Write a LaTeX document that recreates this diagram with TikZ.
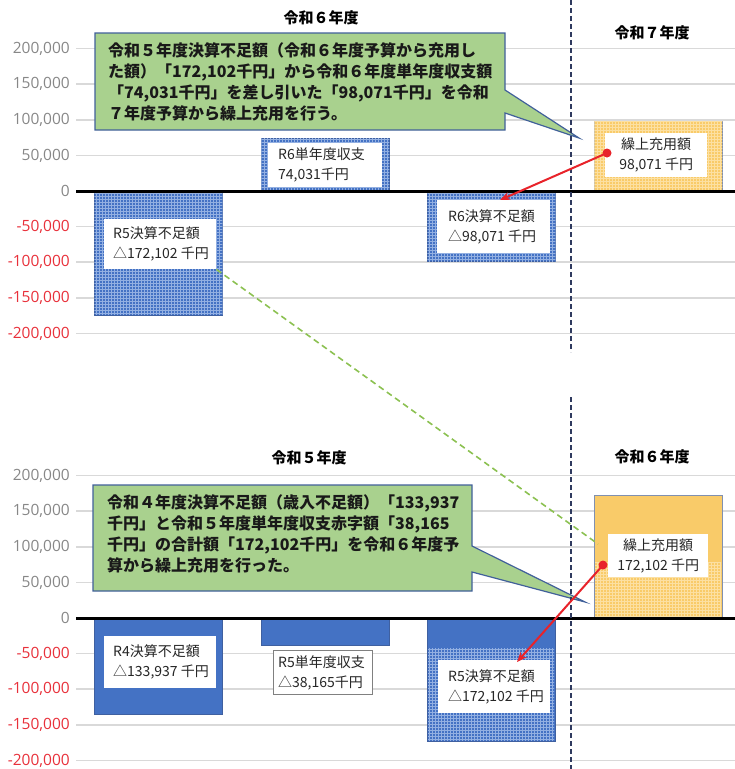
\documentclass[tikz,border=0pt]{standalone}
\usepackage{fontspec}
\usetikzlibrary{patterns,arrows.meta}
\newfontfamily\jp{Noto Sans CJK JP}
\newfontfamily\axf{Open Sans}
\definecolor{gridc}{HTML}{D9D9D9}
\definecolor{axgray}{HTML}{878787}
\definecolor{axred}{HTML}{E8303A}
\definecolor{barblue}{HTML}{4472C4}
\definecolor{barline}{HTML}{3F60A0}
\definecolor{patblue}{HTML}{93B0E2}
\definecolor{barorange}{HTML}{F9CB69}
\definecolor{orline}{HTML}{8090B0}
\definecolor{patorange}{HTML}{FCE0A2}
\definecolor{callgreen}{HTML}{A9D18E}
\definecolor{callline}{HTML}{41609A}
\definecolor{navy}{HTML}{2F3A5F}
\definecolor{dashgreen}{HTML}{8CC152}
\definecolor{arrred}{HTML}{E8232A}
\begin{document}
\begin{tikzpicture}[x=1pt,y=-1pt,
  gridline/.style={gridc, line width=1.5pt},
  zeroline/.style={black, line width=3pt},
  axpos/.style={anchor=east, text=axgray, font=\axf\fontsize{15.5}{18}\selectfont, inner sep=0pt},
  axneg/.style={axpos, text=axred},
  bluebar/.style={draw=barline, line width=0.8pt, fill=barblue, anchor=north west, inner sep=0pt, minimum width=128pt},
  patbluebar/.style={bluebar, postaction={pattern=grid, pattern color=patblue}},
  orbar/.style={draw=orline, line width=0.9pt, fill=barorange, anchor=north west, inner sep=0pt, minimum width=128pt},
  patorbar/.style={orbar, postaction={pattern=grid, pattern color=patorange}},
  lblbg/.style={fill=white, anchor=north west, inner sep=0pt},
  lbltxt/.style={anchor=west, align=left, inner sep=0pt, font=\jp\fontsize{14}{20}\selectfont, text=black!85},
  lblctr/.style={align=center, inner sep=0pt, font=\jp\fontsize{14}{20}\selectfont, text=black!85},
  yeartitle/.style={font=\jp\bfseries\fontsize{15}{18}\selectfont, inner sep=0pt},
  callout/.style={fill=callgreen, draw=callline, line width=1.2pt, line join=miter},
  calltext/.style={anchor=north west, align=left, inner sep=0pt, font=\jp\bfseries\fontsize{16}{21}\selectfont, text=black!90},
  yeardiv/.style={navy, line width=1.6pt, dash pattern=on 5pt off 3pt},
  linkline/.style={dashgreen, line width=1.6pt, dash pattern=on 6pt off 4pt},
  redarrow/.style={arrred, line width=2pt, -{Stealth[length=10pt,width=8pt]}}
]
\useasboundingbox (0,0) rectangle (735,769);

% ================= TOP CHART =================
\foreach \y in {48.6,84.2,119.8,155.4,226.6,262.2,297.8,333.4}{
  \draw[gridline] (76,\y) -- (735,\y);
}
\node[axpos] (ta1) at (70,48.6) {200,000};
\node[axpos] (ta2) at (70,84.2) {150,000};
\node[axpos] (ta3) at (70,119.8) {100,000};
\node[axpos] (ta4) at (70,155.4) {50,000};
\node[axpos] (ta5) at (70,191) {0};
\node[axneg] (ta6) at (70,226.6) {-50,000};
\node[axneg] (ta7) at (70,262.2) {-100,000};
\node[axneg] (ta8) at (70,297.8) {-150,000};
\node[axneg] (ta9) at (70,333.4) {-200,000};

\node[patbluebar, minimum height=123.5pt] (tb1) at (94,191) {};
\node[patbluebar, minimum height=53pt] (tb2) at (261,138) {};
\node[patbluebar, minimum height=70pt] (tb3) at (427,191) {};
\node[patorbar, minimum height=70pt] (tb4) at (594,121) {};
\draw[zeroline] (76,191) -- (735,191);

\node[lblbg, minimum width=112pt, minimum height=50pt] (tl1) at (104,219) {};
\node[lbltxt] (tt1) at ([xshift=9pt]tl1.west) {R5決算不足額\\△172,102 千円};
\node[lblbg, minimum width=114pt, minimum height=44pt] (tl2) at (268,143) {};
\node[lbltxt] (tt2) at ([xshift=10pt]tl2.west) {R6単年度収支\\74,031千円};
\node[lblbg, minimum width=113pt, minimum height=53pt] (tl3) at (437,200) {};
\node[lbltxt] (tt3) at ([xshift=11pt]tl3.west) {R6決算不足額\\△98,071 千円};
\node[lblbg, minimum width=102pt, minimum height=44pt] (tl4) at (605,133) {};
\node[lblctr] (tt4) at (tl4.center) {繰上充用額\\98,071 千円};

\node[yeartitle] (ty1) at (321,18) {令和６年度};
\node[yeartitle] (ty2) at (652,33) {令和７年度};

\coordinate (tc1) at (95,33);
\coordinate (tc2) at (505,130);
\coordinate (ttip) at (579,138);
\draw[callout] (tc1) -- (505,33) -- (505,90) -- (ttip) -- (505,113) -- (tc2) -- (95,130) -- cycle;
\node[calltext] (tct) at (108,42) {令和５年度決算不足額（令和６年度予算から充用し\\た額）「172,102千円」から令和６年度単年度収支額\\「74,031千円」を差し引いた「98,071千円」を令和\\７年度予算から繰上充用を行う。};

\coordinate (tdv1) at (571,0);
\coordinate (tdv2) at (571,352);
\draw[yeardiv] (tdv1) -- (tdv2);

% ================= BOTTOM CHART =================
\foreach \y in {475.6,511.2,546.8,582.4,653.6,689.2,724.8,760.4}{
  \draw[gridline] (76,\y) -- (735,\y);
}
\node[axpos] (ba1) at (70,475.6) {200,000};
\node[axpos] (ba2) at (70,511.2) {150,000};
\node[axpos] (ba3) at (70,546.8) {100,000};
\node[axpos] (ba4) at (70,582.4) {50,000};
\node[axpos] (ba5) at (70,618) {0};
\node[axneg] (ba6) at (70,653.6) {-50,000};
\node[axneg] (ba7) at (70,689.2) {-100,000};
\node[axneg] (ba8) at (70,724.8) {-150,000};
\node[axneg] (ba9) at (70,760.4) {-200,000};

\node[bluebar, minimum height=95.5pt] (bb1) at (94,618) {};
\node[bluebar, minimum height=27pt] (bb2) at (261,618) {};
\node[bluebar, minimum height=123pt] (bb3) at (427,618) {};
\path[pattern=grid, pattern color=patblue] (428,648) rectangle (554,740);
\node[orbar, minimum height=123pt] (bb4) at (594,495) {};
\path[pattern=grid, pattern color=patorange] (595,562) rectangle (721,617);
\draw[zeroline] (76,618) -- (735,618);

\node[lblbg, minimum width=112pt, minimum height=52pt] (bl1) at (104,636) {};
\node[lbltxt] (bt1) at ([xshift=9pt]bl1.west) {R4決算不足額\\△133,937 千円};
\node[lblbg, draw=gray, line width=1pt, minimum width=99pt, minimum height=44pt] (bl2) at (273,650) {};
\node[lbltxt] (bt2) at ([xshift=5pt]bl2.west) {R5単年度収支\\△38,165千円};
\node[lblbg, minimum width=112pt, minimum height=53pt] (bl3) at (438,660) {};
\node[lbltxt] (bt3) at ([xshift=10pt]bl3.west) {R5決算不足額\\△172,102 千円};
\node[lblbg, minimum width=100pt, minimum height=43pt] (bl4) at (608,534) {};
\node[lblctr] (bt4) at (bl4.center) {繰上充用額\\172,102 千円};

\node[yeartitle] (by1) at (309,458) {令和５年度};
\node[yeartitle] (by2) at (652,457) {令和６年度};

\coordinate (bc1) at (93,485);
\coordinate (bc2) at (472,591);
\coordinate (btip) at (585,602);
\draw[callout] (bc1) -- (472,485) -- (472,546) -- (btip) -- (472,572) -- (bc2) -- (93,591) -- cycle;
\node[calltext] (bct) at (107,494) {令和４年度決算不足額（歳入不足額）「133,937\\千円」と令和５年度単年度収支赤字額「38,165\\千円」の合計額「172,102千円」を令和６年度予\\算から繰上充用を行った。};

\coordinate (bdv1) at (571,397);
\coordinate (bdv2) at (571,769);
\draw[yeardiv] (bdv1) -- (bdv2);

% ================= LINKS =================
\coordinate (g1) at (tl1.south east);
\coordinate (g2) at (598,544);
\draw[linkline] (g1) -- (g2);

\coordinate (rd1) at (607,153);
\coordinate (rt1) at (500,200);
\draw[redarrow] (rd1) -- (rt1);
\fill[arrred] (rd1) circle (4.5pt);

\coordinate (rd2) at (603,565);
\coordinate (rt2) at (517,662);
\draw[redarrow] (rd2) -- (rt2);
\fill[arrred] (rd2) circle (4.5pt);
\end{tikzpicture}
\end{document}
